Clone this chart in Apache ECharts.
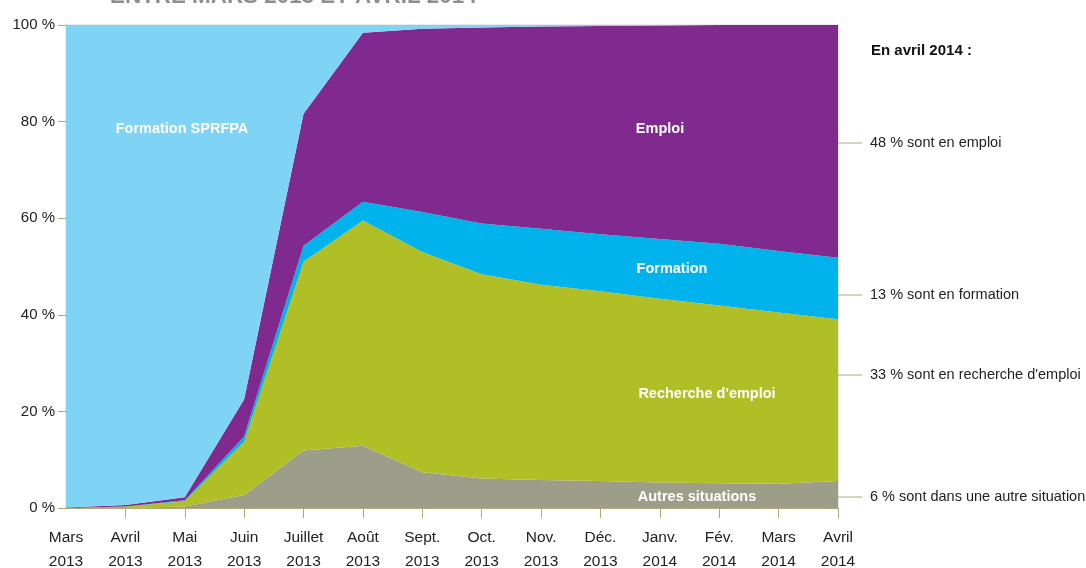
<!DOCTYPE html>
<html lang="fr">
<head>
<meta charset="utf-8">
<title>Situation des stagiaires entre mars 2013 et avril 2014</title>
<script src="https://cdn.jsdelivr.net/npm/echarts@6/dist/echarts.min.js"></script>
<style>
    html, body {
        margin: 0;
        padding: 0;
        background: #fff;
    }
    #chart {
        width: 1086px;
        height: 568px;
    }
</style>
</head>
<body>
<div id="chart"></div>
<script>
// mois (deux lignes : mois / année)
const months = ['Mars', 'Avril', 'Mai', 'Juin', 'Juillet', 'Août', 'Sept.', 'Oct.', 'Nov.', 'Déc.', 'Janv.', 'Fév.', 'Mars', 'Avril'];
const years = ['2013', '2013', '2013', '2013', '2013', '2013', '2013', '2013', '2013', '2013', '2014', '2014', '2014', '2014'];

// parts en %, empilées de bas en haut
const autres = [0, 0, 0.3, 2.7, 11.9, 12.9, 7.4, 6.1, 5.8, 5.6, 5.3, 5.1, 5.0, 5.6];
const recherche = [0, 0.3, 1.1, 11.0, 39.1, 46.6, 45.6, 42.3, 40.4, 39.3, 38.0, 36.8, 35.5, 33.5];
const formation = [0, 0, 0.2, 1.1, 3.3, 3.9, 8.3, 10.5, 11.6, 11.8, 12.4, 12.8, 12.7, 12.7];
const emploi = [0.1, 0.3, 0.6, 7.7, 27.3, 35.0, 37.9, 40.6, 41.9, 43.1, 44.2, 45.3, 46.8, 48.2];
const sprfpa = [99.9, 99.4, 97.8, 77.5, 18.4, 1.6, 0.8, 0.5, 0.3, 0.2, 0.1, 0, 0, 0];

// libellés de droite
const noteTitle = 'En avril 2014 :';
const notes = [
    '48 % sont en emploi',
    '13 % sont en formation',
    "33 % sont en recherche d'emploi",
    '6 % sont dans une autre situation'
];

const font = "'Liberation Sans', Arial, Helvetica, sans-serif";
const axisColor = '#b2a87c';

const mChart = echarts.init(document.getElementById('chart'));

const area = (name, data, color) => ({
    name: name,
    type: 'line',
    stack: 'total',
    data: data,
    symbol: 'none',
    lineStyle: { width: 0 },
    areaStyle: { color: color, opacity: 1 },
    itemStyle: { color: color },
    silent: true
});

// texte blanc dans les aires (au-dessus des séries)
const inside = (text, x, y) => ({
    type: 'text',
    x: x,
    y: y,
    z: 100,
    style: {
        text: text,
        fill: '#fff',
        font: 'bold 14.5px ' + font,
        align: 'center',
        verticalAlign: 'middle'
    }
});

const noteY = [143, 295, 375, 497];
const graphics = [
    {
        type: 'text',
        x: 110,
        y: -3,
        style: {
            text: 'ENTRE MARS 2013 ET AVRIL 2014',
            fill: '#8e8e8e',
            font: 'bold 22.4px ' + font,
            verticalAlign: 'middle'
        }
    },
    inside('Formation SPRFPA', 182, 129),
    inside('Emploi', 660, 129),
    inside('Formation', 672, 269),
    inside("Recherche d'emploi", 707, 394),
    inside('Autres situations', 697, 497),
    {
        type: 'text',
        x: 871,
        y: 51,
        style: {
            text: noteTitle,
            fill: '#111',
            font: 'bold 15px ' + font,
            verticalAlign: 'middle'
        }
    }
];
notes.forEach((t, i) => {
    graphics.push({
        type: 'line',
        shape: { x1: 838, y1: noteY[i], x2: 862, y2: noteY[i] },
        style: { stroke: axisColor, lineWidth: 1 }
    });
    graphics.push({
        type: 'text',
        x: 870,
        y: noteY[i],
        style: {
            text: t,
            fill: '#222',
            font: '14.5px ' + font,
            verticalAlign: 'middle'
        }
    });
});

const options = {
    animation: false,
    textStyle: { fontFamily: font },
    grid: {
        left: 66,
        right: 248,
        top: 25,
        bottom: 60,
        outerBoundsMode: 'none',
        show: true,
        borderColor: '#d6d6d6',
        borderWidth: 1,
        backgroundColor: 'transparent'
    },
    xAxis: {
        type: 'category',
        boundaryGap: false,
        data: months.map((m, i) => m + '\n' + years[i]),
        axisLine: { lineStyle: { color: axisColor, width: 1 } },
        axisTick: {
            show: true,
            length: 10,
            interval: i => i > 0,
            lineStyle: { color: axisColor }
        },
        axisLabel: {
            color: '#222',
            fontSize: 15.5,
            lineHeight: 24,
            margin: 18,
            interval: 0
        },
        splitLine: { show: false }
    },
    yAxis: {
        type: 'value',
        min: 0,
        max: 100,
        interval: 20,
        axisLine: { show: true, lineStyle: { color: axisColor, width: 1 } },
        axisTick: { show: true, length: 8, lineStyle: { color: axisColor } },
        axisLabel: {
            formatter: '{value} %',
            color: '#222',
            fontSize: 15,
            margin: 11
        },
        splitLine: { show: false }
    },
    series: [
        area('Autres situations', autres, '#9d9e89'),
        area("Recherche d'emploi", recherche, '#b0bf25'),
        area('Formation', formation, '#00b3ec'),
        area('Emploi', emploi, '#80298f'),
        area('Formation SPRFPA', sprfpa, '#7fd3f5')
    ],
    graphic: graphics
};

mChart.setOption(options);
</script>
</body>
</html>
